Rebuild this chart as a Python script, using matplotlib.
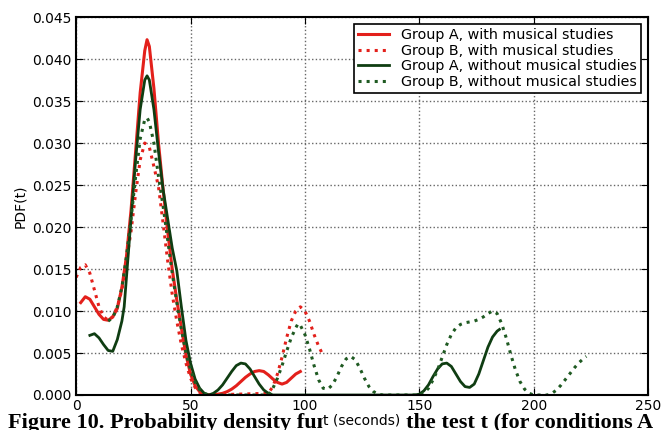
import matplotlib
matplotlib.use("Agg")
import matplotlib.pyplot as plt

# Group A, with musical studies (red solid)
a_mus_t = [2, 4, 6, 8, 10, 12, 14, 16, 18, 20, 22, 24, 26, 28, 30, 31, 32, 34, 36, 38, 40,
           42, 44, 46, 48, 50, 52, 54, 56, 58, 60, 62, 64, 66, 68, 70, 72, 74, 76, 78, 80,
           82, 84, 86, 88, 90, 92, 94, 96, 98]
a_mus_p = [0.0110, 0.0117, 0.0114, 0.0105, 0.0096, 0.0090, 0.0089, 0.0093, 0.0103, 0.0128,
           0.0165, 0.0220, 0.0290, 0.0360, 0.0410, 0.0423, 0.0415, 0.0365, 0.0300, 0.0245,
           0.0195, 0.0150, 0.0113, 0.0080, 0.0048, 0.0025, 0.0011, 0.0004, 0.0001, 0.0000,
           0.0000, 0.0001, 0.0002, 0.0004, 0.0007, 0.0011, 0.0016, 0.0021, 0.0025, 0.0028,
           0.0029, 0.0028, 0.0024, 0.0019, 0.0015, 0.0013, 0.0015, 0.0020, 0.0025, 0.0028]

# Group B, with musical studies (red dotted)
b_mus_t = [0, 2, 4, 6, 8, 10, 12, 14, 16, 18, 20, 22, 24, 26, 28, 30, 32, 34, 36, 38, 40,
           42, 44, 46, 48, 50, 52, 54, 56, 58, 84, 86, 88, 90, 92, 94, 96, 98, 100, 102,
           104, 106, 108]
b_mus_p = [0.0140, 0.0152, 0.0155, 0.0145, 0.0125, 0.0105, 0.0093, 0.0089, 0.0093, 0.0105,
           0.0125, 0.0160, 0.0195, 0.0240, 0.0280, 0.0300, 0.0295, 0.0272, 0.0248, 0.0205,
           0.0160, 0.0120, 0.0088, 0.0060, 0.0038, 0.0020, 0.0009, 0.0003, 0.0001, 0.0000,
           0.0002, 0.0010, 0.0025, 0.0045, 0.0068, 0.0088, 0.0100, 0.0105, 0.0100, 0.0088,
           0.0072, 0.0058, 0.0047]

# Group A, without musical studies (green solid)
a_nomus_t = [6, 8, 10, 12, 14, 16, 18, 20, 21, 22, 24, 26, 28, 30, 31, 32, 34, 36, 38, 40,
             42, 44, 46, 48, 50, 52, 54, 56, 58, 60, 62, 64, 66, 68, 70, 72, 74, 76, 78, 80,
             82, 84, 86, 148, 150, 152, 154, 156, 158, 160, 162, 164, 166, 168, 170, 172,
             174, 176, 178, 180, 182, 184, 185]
a_nomus_p = [0.0071, 0.0073, 0.0068, 0.0060, 0.0053, 0.0052, 0.0066, 0.0088, 0.0105, 0.0140,
             0.0210, 0.0280, 0.0340, 0.0375, 0.0380, 0.0375, 0.0340, 0.0290, 0.0245, 0.0210,
             0.0175, 0.0148, 0.0105, 0.0065, 0.0038, 0.0019, 0.0008, 0.0002, 0.0000, 0.0002,
             0.0006, 0.0012, 0.0020, 0.0028, 0.0035, 0.0038, 0.0037, 0.0031, 0.0022, 0.0013,
             0.0006, 0.0002, 0.0000, 0.0000, 0.0001, 0.0005, 0.0012, 0.0022, 0.0031, 0.0037,
             0.0038, 0.0034, 0.0025, 0.0016, 0.0010, 0.0009, 0.0013, 0.0025, 0.0041, 0.0057,
             0.0069, 0.0076, 0.0078]

# Group B, without musical studies (green dotted)
b_nomus_t = [14, 16, 18, 20, 22, 24, 26, 28, 30, 31, 32, 34, 36, 38, 40, 42, 44, 46, 48, 50,
             52, 54, 56, 58, 84, 86, 88, 90, 92, 94, 96, 97, 98, 100, 102, 104, 106, 108, 110,
             112, 114, 116, 118, 120, 122, 124, 126, 128, 130, 132, 134, 150, 152, 154, 156,
             158, 160, 162, 164, 166, 168, 170, 172, 174, 176, 178, 180, 182, 184, 186, 188,
             190, 192, 194, 196, 198, 200, 206, 208, 210, 212, 214, 216, 218, 220, 222, 223]
b_nomus_p = [0.0088, 0.0092, 0.0105, 0.0128, 0.0165, 0.0210, 0.0260, 0.0305, 0.0328, 0.0330,
             0.0325, 0.0300, 0.0260, 0.0225, 0.0185, 0.0145, 0.0110, 0.0078, 0.0050, 0.0030,
             0.0015, 0.0006, 0.0002, 0.0000, 0.0000, 0.0008, 0.0020, 0.0035, 0.0052, 0.0068,
             0.0080, 0.0085, 0.0083, 0.0072, 0.0055, 0.0035, 0.0018, 0.0008, 0.0007, 0.0012,
             0.0022, 0.0034, 0.0043, 0.0046, 0.0042, 0.0032, 0.0020, 0.0010, 0.0004, 0.0001,
             0.0000, 0.0000, 0.0002, 0.0008, 0.0018, 0.0030, 0.0045, 0.0060, 0.0072, 0.0080,
             0.0084, 0.0086, 0.0087, 0.0088, 0.0090, 0.0093, 0.0097, 0.0100, 0.0097, 0.0085,
             0.0068, 0.0048, 0.0030, 0.0016, 0.0007, 0.0002, 0.0000, 0.0000, 0.0002, 0.0006,
             0.0012, 0.0019, 0.0026, 0.0033, 0.0039, 0.0044, 0.0046]

red = "#e3201b"
green = "#0f3d12"
green_dot = "#1f5a22"

fig = plt.figure(figsize=(6.62, 4.30), dpi=100)
ax = fig.add_axes([0.115, 0.0814, 0.864, 0.879])

ax.plot(a_mus_t, a_mus_p, color=red, lw=2.2, label="Group A, with musical studies")
ax.plot(b_mus_t, b_mus_p, color=red, lw=2.2, ls=":", label="Group B, with musical studies")
ax.plot(a_nomus_t, a_nomus_p, color=green, lw=2.0, label="Group A, without musical studies")
ax.plot(b_nomus_t, b_nomus_p, color=green_dot, lw=2.2, ls=":", label="Group B, without musical studies")

ax.set_xlim(0, 250)
ax.set_ylim(0, 0.045)
ax.set_xticks([0, 50, 100, 150, 200, 250])
ax.set_yticks([0.000, 0.005, 0.010, 0.015, 0.020, 0.025, 0.030, 0.035, 0.040, 0.045])
ax.yaxis.set_major_formatter(matplotlib.ticker.FormatStrFormatter("%.3f"))
ax.tick_params(direction="in", top=True, right=True, labelsize=10, length=5, pad=3)
ax.grid(True, ls=":", color="#666666", lw=1.0)
for s in ax.spines.values():
    s.set_linewidth(1.5)

ax.set_ylabel("PDF(t)", fontsize=10)
ax.set_xlabel("t (seconds)", fontsize=10, labelpad=0,
              bbox=dict(facecolor="white", edgecolor="none", pad=0.5))

leg = ax.legend(loc="upper right", fontsize=10.3, fancybox=False, framealpha=1,
                edgecolor="black", handlelength=2.2, borderpad=0.3, labelspacing=0.1)
leg.get_frame().set_linewidth(1.2)

# caption of the source figure, cut by the lower edge of the picture
fig.text(0.012, 1 - 428 / 430, "Figure 10. Probability density function of the test t (for conditions A",
         family="Liberation Serif", weight="bold", fontsize=16, va="baseline", zorder=-1)

fig.savefig("out.png", dpi=100)
